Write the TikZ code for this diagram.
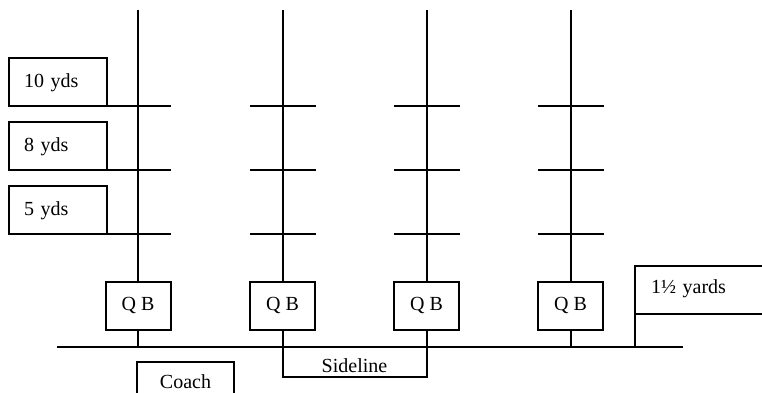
\documentclass[tikz,border=0pt]{standalone}
\usepackage{fontspec}
\setmainfont{Liberation Serif}
\begin{document}
\begin{tikzpicture}[x=1pt,y=-1pt,line width=2pt,every node/.style={outer sep=0pt},
  txt/.style={font=\fontsize{20}{24}\selectfont},
  qbbox/.style={draw,rectangle,txt,inner sep=0pt,minimum width=65pt,minimum height=48pt,text height=14pt,text depth=6pt},
  ydbox/.style={draw,rectangle,txt,inner ysep=0pt,inner xsep=15pt,text width=68pt,align=left,minimum height=48pt,text height=14pt,text depth=4pt},
  ln/.style={line width=2pt}]
\useasboundingbox (0,0) rectangle (762,392);
\clip (0,0) rectangle (762,392);

% yard label boxes
\node[ydbox] (y10) at (58,82) {10 yds};
\node[ydbox] (y8)  at (58,146) {8 yds};
\node[ydbox] (y5)  at (58,210) {5 yds};

% QB boxes
\node[qbbox] (qb1) at (138,306) {Q B};
\node[qbbox] (qb2) at (282.5,306) {Q B};
\node[qbbox] (qb3) at (426.5,306) {Q B};
\node[qbbox] (qb4) at (570.5,306) {Q B};

% sideline
\coordinate (slw) at (57,347);
\coordinate (sle) at (683,347);
\draw[ln] (slw) -- (sle);

% sideline box
\node[draw,rectangle,txt,inner sep=0pt,minimum width=144pt,minimum height=30pt,text height=20pt,text depth=0pt] (side) at (354.5,362) {Sideline};

% coach box
\node[draw,rectangle,txt,inner sep=0pt,minimum width=97pt,minimum height=48pt,text height=14pt,text depth=10pt] (coach) at (185.5,386) {Coach};

% 1 1/2 yards box
\node[draw,rectangle,txt,inner ysep=0pt,inner xsep=16pt,text width=108pt,align=left,minimum height=48pt,text height=14pt,text depth=8pt] (half) at (705,290) {1½ yards};
\draw[ln] (half.south west) -- (half.south west |- sle);

% vertical field lines
\coordinate (top1) at (138,10);
\coordinate (top2) at (282.5,10);
\coordinate (top3) at (426.5,10);
\coordinate (top4) at (570.5,10);
\foreach \i in {1,2,3,4}{
  \draw[ln] (top\i) -- (qb\i.north);
}
\draw[ln] (qb1.south) -- (qb1.south |- sle);
\draw[ln] (qb4.south) -- (qb4.south |- sle);
\draw[ln] (qb2.south) -- (side.south west);
\draw[ln] (qb3.south) -- (side.south east);

% yard ticks
\coordinate (t10) at (171,106);
\coordinate (t8) at (171,170);
\coordinate (t5) at (171,234);
\draw[ln] (y10.south east) -- (t10);
\draw[ln] (y8.south east) -- (t8);
\draw[ln] (y5.south east) -- (t5);
\foreach \i in {2,3,4}{
  \foreach \yy in {106,170,234}{
    \draw[ln] ([xshift=-33pt]top\i |- 0,\yy) -- ([xshift=33pt]top\i |- 0,\yy);
  }
}
\end{tikzpicture}
\end{document}
